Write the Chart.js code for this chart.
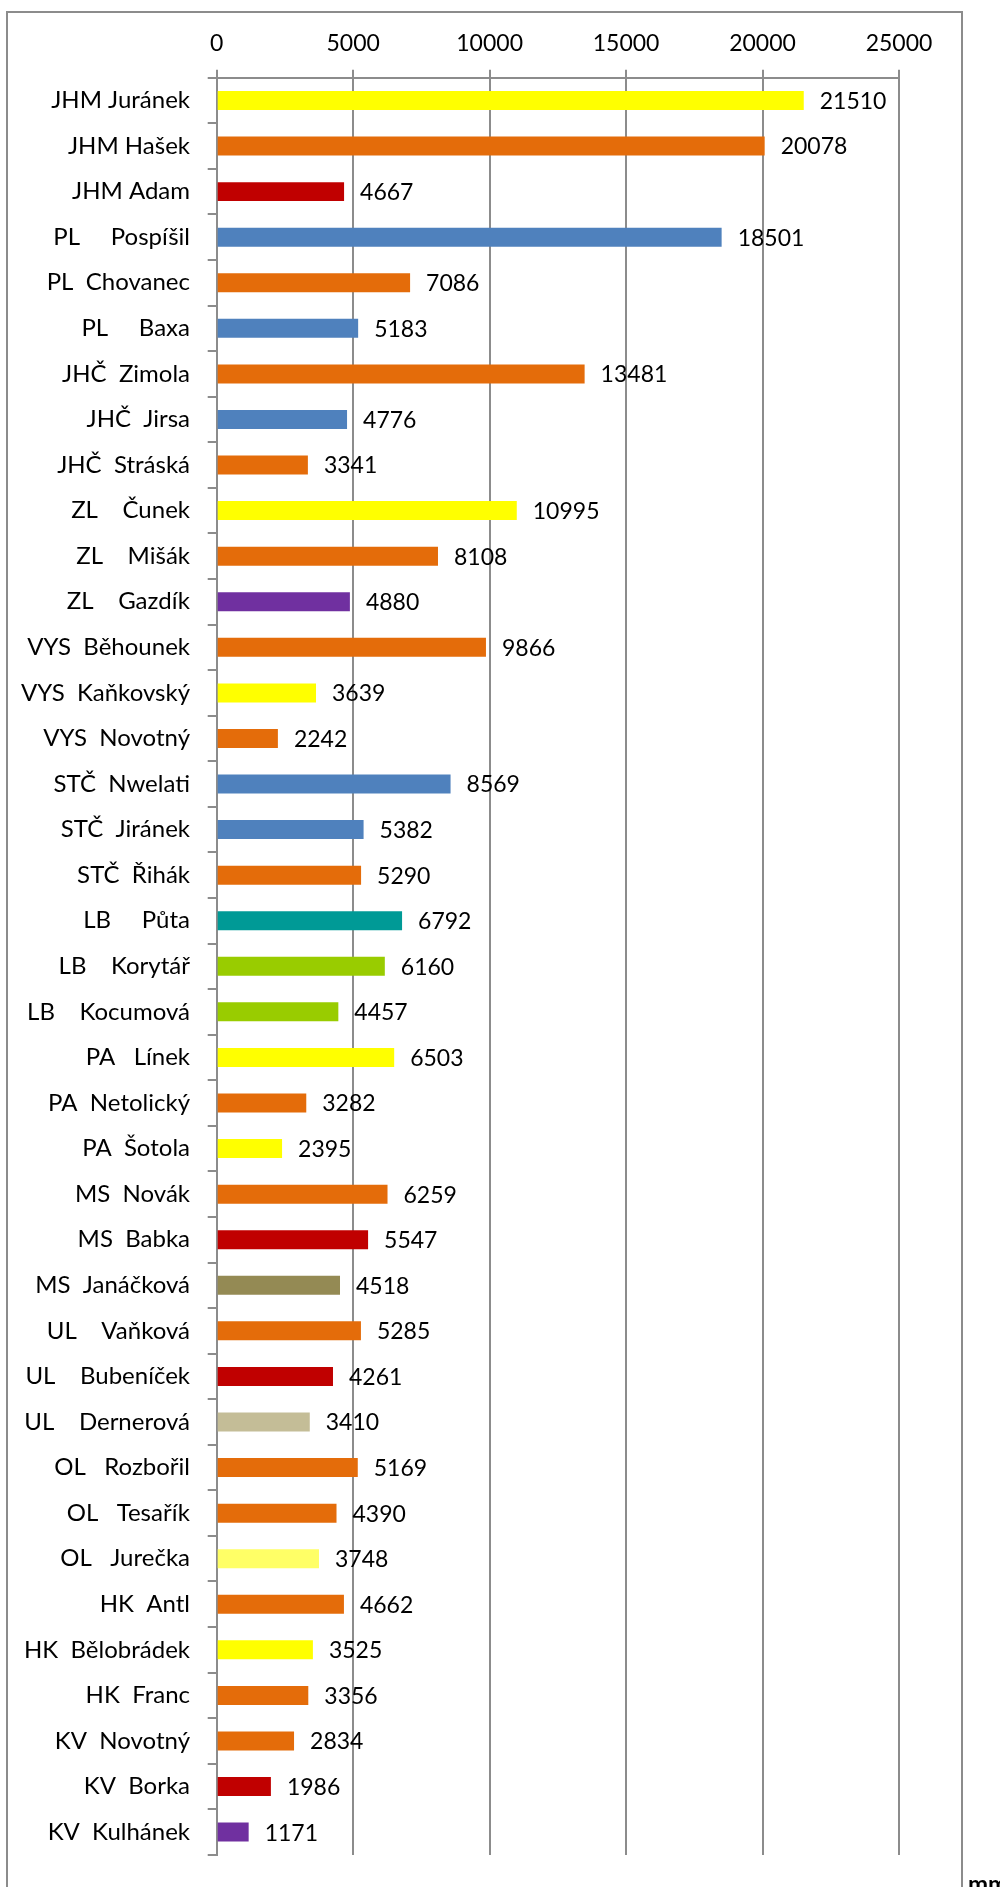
<!DOCTYPE html>
<html>
<head>
<meta charset="utf-8">
<script src="https://cdn.jsdelivr.net/npm/chart.js@4.4.0/dist/chart.umd.min.js"></script>
<style>
  body { margin: 0; background: #ffffff; }
</style>
</head>
<body>
<canvas id="votes-chart" width="1000" height="1887"></canvas>
<script>
// Candidates (region + name), values and bar colours, top to bottom
const candidates = [
    'JHM Juránek', 'JHM Hašek', 'JHM Adam',
    'PL     Pospíšil', 'PL  Chovanec', 'PL     Baxa',
    'JHČ  Zimola', 'JHČ  Jirsa', 'JHČ  Stráská',
    'ZL    Čunek', 'ZL    Mišák', 'ZL    Gazdík',
    'VYS  Běhounek', 'VYS  Kaňkovský', 'VYS  Novotný',
    'STČ  Nwelati', 'STČ  Jiránek', 'STČ  Řihák',
    'LB     Půta', 'LB    Korytář', 'LB    Kocumová',
    'PA   Línek', 'PA  Netolický', 'PA  Šotola',
    'MS  Novák', 'MS  Babka', 'MS  Janáčková',
    'UL    Vaňková', 'UL    Bubeníček', 'UL    Dernerová',
    'OL   Rozbořil', 'OL   Tesařík', 'OL   Jurečka',
    'HK  Antl', 'HK  Bělobrádek', 'HK  Franc',
    'KV  Novotný', 'KV  Borka', 'KV  Kulhánek'
];

const votes = [
    21510, 20078, 4667,
    18501, 7086, 5183,
    13481, 4776, 3341,
    10995, 8108, 4880,
    9866, 3639, 2242,
    8569, 5382, 5290,
    6792, 6160, 4457,
    6503, 3282, 2395,
    6259, 5547, 4518,
    5285, 4261, 3410,
    5169, 4390, 3748,
    4662, 3525, 3356,
    2834, 1986, 1171
];

const barColors = [
    '#FFFF00', '#E46C0A', '#C00000',
    '#4F81BD', '#E46C0A', '#4F81BD',
    '#E46C0A', '#4F81BD', '#E46C0A',
    '#FFFF00', '#E46C0A', '#7030A0',
    '#E46C0A', '#FFFF00', '#E46C0A',
    '#4F81BD', '#4F81BD', '#E46C0A',
    '#009A96', '#99CC00', '#99CC00',
    '#FFFF00', '#E46C0A', '#FFFF00',
    '#E46C0A', '#C00000', '#948A54',
    '#E46C0A', '#C00000', '#C4BD97',
    '#E46C0A', '#E46C0A', '#FFFF66',
    '#E46C0A', '#FFFF00', '#E46C0A',
    '#E46C0A', '#C00000', '#7030A0'
];

// Axis ticks along the top
const axisMin = 0;
const axisMax = 25000;
const axisStep = 5000;

const LABEL_FONT = { family: 'Lato', size: 24 };
const NUMBER_FONT = { family: 'Lato', size: 23 };
const GRID_COLOR = '#8c8c8c';

// White page, grey frame around the chart and the cut-off "mm" note
const framePlugin = {
    id: 'frame',
    beforeDraw(chart) {
        const ctx = chart.ctx;
        ctx.save();
        ctx.fillStyle = '#ffffff';
        ctx.fillRect(0, 0, chart.width, chart.height);
        ctx.strokeStyle = '#8c8c8c';
        ctx.lineWidth = 2;
        ctx.strokeRect(7, 12, 955, 1900);
        ctx.restore();
    },
    afterDraw(chart) {
        const ctx = chart.ctx;
        ctx.save();
        ctx.fillStyle = '#000000';
        ctx.font = 'bold 24px Lato';
        ctx.textBaseline = 'alphabetic';
        ctx.fillText('mm', 968, 1893);
        ctx.restore();
    }
};

// Value printed to the right of each bar
const valueLabels = {
    id: 'valueLabels',
    afterDatasetsDraw(chart) {
        const ctx = chart.ctx;
        const meta = chart.getDatasetMeta(0);
        ctx.save();
        ctx.fillStyle = '#000000';
        ctx.font = NUMBER_FONT.size + 'px ' + NUMBER_FONT.family;
        ctx.textAlign = 'left';
        ctx.textBaseline = 'middle';
        meta.data.forEach((bar, i) => {
            ctx.fillText(String(votes[i]), bar.x + 16, bar.y + 1);
        });
        ctx.restore();
    }
};

const ctx = document.getElementById('votes-chart').getContext('2d');
new Chart(ctx, {
    type: 'bar',
    data: {
        labels: candidates,
        datasets: [{
            data: votes,
            backgroundColor: barColors,
            borderWidth: 0,
            barPercentage: 0.4167,
            categoryPercentage: 1.0
        }]
    },
    options: {
        indexAxis: 'y',
        responsive: false,
        animation: false,
        events: [],
        layout: {
            padding: { left: 0, top: 0, right: 101, bottom: 29.3 }
        },
        plugins: {
            legend: { display: false },
            tooltip: { enabled: false }
        },
        scales: {
            x: {
                type: 'linear',
                position: 'top',
                min: axisMin,
                max: axisMax,
                afterFit: scale => { scale.height = 77.7; },
                ticks: {
                    stepSize: axisStep,
                    color: '#000000',
                    font: NUMBER_FONT,
                    padding: 12,
                    maxRotation: 0,
                    callback: value => String(value)
                },
                grid: {
                    color: GRID_COLOR,
                    lineWidth: 2,
                    tickLength: 8
                },
                border: { color: GRID_COLOR, width: 2 }
            },
            y: {
                afterFit: scale => { scale.width = 216.7; },
                ticks: {
                    color: '#000000',
                    font: LABEL_FONT,
                    padding: 17.7,
                    autoSkip: false
                },
                grid: {
                    offset: true,
                    drawOnChartArea: false,
                    color: GRID_COLOR,
                    lineWidth: 2,
                    tickLength: 9
                },
                border: { color: GRID_COLOR, width: 2 }
            }
        }
    },
    plugins: [framePlugin, valueLabels]
});
</script>
</body>
</html>
